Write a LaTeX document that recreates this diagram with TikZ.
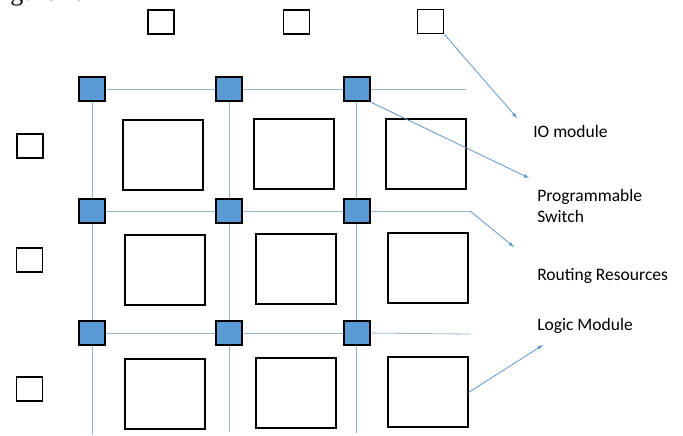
\documentclass[tikz,border=0pt]{standalone}
\usepackage{fontspec}
\setmainfont{Carlito}
\newfontfamily\capfont{Liberation Serif}
\definecolor{swblue}{RGB}{91,155,213}
\definecolor{wirec}{RGB}{150,185,210}
\definecolor{arrowc}{RGB}{95,150,205}

\begin{document}
\begin{tikzpicture}[x=1pt, y=1pt, -, node distance=122pt, semithick, >=latex]  % units are pixels of the sketch
  \tikzstyle{switch}=[rectangle,draw=black,fill=swblue,line width=2pt,minimum width=26pt,minimum height=24pt,inner sep=0pt]
  \tikzstyle{logic}=[rectangle,draw=black,line width=2pt,minimum width=80pt,minimum height=70pt,inner sep=0pt]
  \tikzstyle{io}=[rectangle,draw=black,line width=1.8pt,minimum width=26pt,minimum height=24pt,inner sep=0pt]
  \tikzstyle{wire}=[draw=wirec,line width=0.8pt]
  \tikzstyle{pointer}=[->,draw=arrowc,line width=0.8pt]
  \tikzstyle{note}=[anchor=base west,inner sep=0pt,font=\fontsize{17.5}{21}\selectfont]
  \useasboundingbox (0,0) rectangle (683,436);

  \node[anchor=base west,inner sep=0pt,font=\capfont\fontsize{26}{30}\selectfont] (FIG) at (-11.5,435.5) {Figure 1.};

  % switches
  \node[switch] (S11) at (92,347) {};
  \node[switch] (S12) [node distance=137pt, right of=S11] {};
  \node[switch] (S13) [node distance=127.5pt, right of=S12] {};
  \node[switch] (S21) [below of=S11] {};
  \node[switch] (S22) [below of=S12] {};
  \node[switch] (S23) [below of=S13] {};
  \node[switch] (S31) [below of=S21] {};
  \node[switch] (S32) [below of=S22] {};
  \node[switch] (S33) [below of=S23] {};

  % logic modules
  \node[logic] (M11) at (163,281)     {};
  \node[logic] (M12) at (294,282)     {};
  \node[logic] (M13) at (426,282)     {};
  \node[logic] (M21) at (164.5,166)   {};
  \node[logic] (M22) at (296,167)     {};
  \node[logic] (M23) at (427.5,167.5) {};
  \node[logic] (M31) at (164.5,42)    {};
  \node[logic] (M32) at (296,42.5)    {};
  \node[logic] (M33) at (427.5,43.5)  {};

  % io modules
  \node[io] (T1) at (161,414)     {};
  \node[io] (T2) at (296.5,414)   {};
  \node[io] (T3) at (430.5,414.5) {};
  \node[io] (L1) at (30,290)      {};
  \node[io] (L2) at (29.5,176)    {};
  \node[io] (L3) at (29.5,47)     {};

  % loose ends of the tracks and the arrow tips
  \coordinate (h1) at (466,347);
  \coordinate (h2) at (470,225);
  \coordinate (h3) at (470,102);
  \coordinate (v1) at (92,1);
  \coordinate (v2) at (229,4);
  \coordinate (v3) at (356.5,3);
  \coordinate (ioTip) at (517,318);
  \coordinate (swTip) at (529,258);
  \coordinate (rtTip) at (514,189);
  \coordinate (lmTip) at (543,91);

  \node[note] (IO) at (533,298.5) {IO module};
  \node[note] (PS) at (537,234)   {Programmable};
  \node[note] (PS2) at (537,213)  {Switch};
  \node[note] (RR) at (537,155)   {Routing Resources};
  \node[note] (LM) at (537,105)   {Logic Module};

  \path[wire] (S11) edge (S12)  (S12) edge (S13)  (S13) edge (h1)
              (S21) edge (S22)  (S22) edge (S23)  (S23) edge (h2)
              (S31) edge (S32)  (S32) edge (S33)  (S33) edge (h3)
              (S11) edge (S21)  (S21) edge (S31)  (S31) edge (v1)
              (S12) edge (S22)  (S22) edge (S32)  (S32) edge (v2)
              (S13) edge (S23)  (S23) edge (S33)  (S33) edge (v3);

  \draw[pointer] (T3.south east) -- (ioTip);
  \draw[pointer] (S13.south east) -- (swTip);
  \draw[pointer] (h2) -- (rtTip);
  \draw[pointer] (M33.east) -- (lmTip);
\end{tikzpicture}
\end{document}
